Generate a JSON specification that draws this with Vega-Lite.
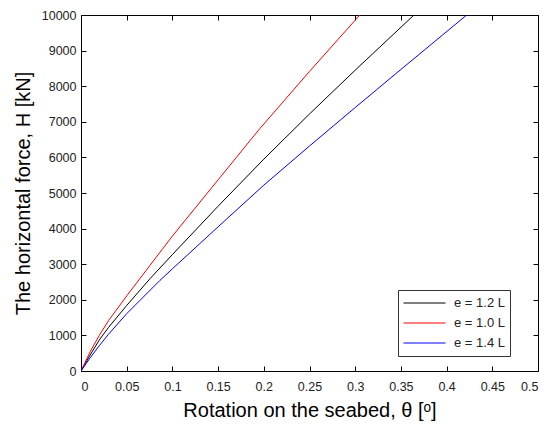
{
  "$schema": "https://vega.github.io/schema/vega-lite/v6.json",
  "width": 457,
  "height": 356,
  "autosize": "none",
  "padding": {"left": 81, "top": 15, "right": 9, "bottom": 53},
  "background": "white",
  "config": {
    "font": "Liberation Sans",
    "view": {"stroke": "black", "strokeWidth": 1},
    "axis": {"grid": false, "domainColor": "black", "tickColor": "black", "labelColor": "#222", "titleColor": "black", "titleFontWeight": "normal", "labelFontSize": 12.5, "titleFontSize": 20, "tickSize": -5}
  },
  "data": {"values": [
    {"series": "e = 1.2 L", "theta": 0, "H": 0},
    {"series": "e = 1.2 L", "theta": 0.01, "H": 450},
    {"series": "e = 1.2 L", "theta": 0.02, "H": 870},
    {"series": "e = 1.2 L", "theta": 0.03, "H": 1220},
    {"series": "e = 1.2 L", "theta": 0.05, "H": 1840},
    {"series": "e = 1.2 L", "theta": 0.0755, "H": 2593},
    {"series": "e = 1.2 L", "theta": 0.1, "H": 3270},
    {"series": "e = 1.2 L", "theta": 0.15, "H": 4630},
    {"series": "e = 1.2 L", "theta": 0.2, "H": 5950},
    {"series": "e = 1.2 L", "theta": 0.25, "H": 7220},
    {"series": "e = 1.2 L", "theta": 0.3, "H": 8450},
    {"series": "e = 1.2 L", "theta": 0.3643, "H": 10000},
    {"series": "e = 1.0 L", "theta": 0, "H": 0},
    {"series": "e = 1.0 L", "theta": 0.01, "H": 540},
    {"series": "e = 1.0 L", "theta": 0.02, "H": 1000},
    {"series": "e = 1.0 L", "theta": 0.03, "H": 1410},
    {"series": "e = 1.0 L", "theta": 0.05, "H": 2110},
    {"series": "e = 1.0 L", "theta": 0.0755, "H": 2968},
    {"series": "e = 1.0 L", "theta": 0.1, "H": 3790},
    {"series": "e = 1.0 L", "theta": 0.15, "H": 5370},
    {"series": "e = 1.0 L", "theta": 0.1958, "H": 6813},
    {"series": "e = 1.0 L", "theta": 0.25, "H": 8415},
    {"series": "e = 1.0 L", "theta": 0.305, "H": 10000},
    {"series": "e = 1.4 L", "theta": 0, "H": 0},
    {"series": "e = 1.4 L", "theta": 0.01, "H": 370},
    {"series": "e = 1.4 L", "theta": 0.02, "H": 710},
    {"series": "e = 1.4 L", "theta": 0.03, "H": 1030},
    {"series": "e = 1.4 L", "theta": 0.05, "H": 1610},
    {"series": "e = 1.4 L", "theta": 0.0864, "H": 2546},
    {"series": "e = 1.4 L", "theta": 0.1, "H": 2870},
    {"series": "e = 1.4 L", "theta": 0.15, "H": 4050},
    {"series": "e = 1.4 L", "theta": 0.2, "H": 5220},
    {"series": "e = 1.4 L", "theta": 0.25, "H": 6320},
    {"series": "e = 1.4 L", "theta": 0.3, "H": 7400},
    {"series": "e = 1.4 L", "theta": 0.35, "H": 8470},
    {"series": "e = 1.4 L", "theta": 0.422, "H": 10000}
  ]},
  "layer": [
    {
      "mark": {"type": "line", "strokeWidth": 1, "clip": true},
      "encoding": {
        "x": {"field": "theta", "type": "quantitative", "scale": {"domain": [0, 0.5], "nice": false},
          "axis": {"orient": "bottom", "values": [0, 0.05, 0.1, 0.15, 0.2, 0.25, 0.3, 0.35, 0.4, 0.45, 0.5], "labelExpr": "format(datum.value, '~g')", "labelPadding": 14, "title": "Rotation on the seabed, θ [ᵒ]", "titlePadding": 8}},
        "y": {"field": "H", "type": "quantitative", "scale": {"domain": [0, 10000], "nice": false},
          "axis": {"orient": "left", "values": [0, 1000, 2000, 3000, 4000, 5000, 6000, 7000, 8000, 9000, 10000], "format": "d", "labelPadding": 10, "title": "The horizontal force, H [kN]", "titlePadding": 8}},
        "stroke": {"field": "series", "type": "nominal",
          "scale": {"domain": ["e = 1.2 L", "e = 1.0 L", "e = 1.4 L"], "range": ["black", "red", "blue"]},
          "legend": {"title": null, "orient": "none", "legendX": 317, "legendY": 275, "strokeColor": "#333", "fillColor": "white", "padding": 5, "symbolType": "stroke", "symbolSize": 1764, "symbolStrokeWidth": 1, "clipHeight": 16, "labelFontSize": 13, "labelColor": "#222", "rowPadding": 4, "labelOffset": 8}}
      }
    },
    {
      "mark": {"type": "line", "opacity": 0},
      "encoding": {
        "x": {"field": "theta", "type": "quantitative", "scale": {"domain": [0, 0.5], "nice": false},
          "axis": {"orient": "top", "values": [0, 0.05, 0.1, 0.15, 0.2, 0.25, 0.3, 0.35, 0.4, 0.45, 0.5], "labels": false, "title": null}},
        "y": {"field": "H", "type": "quantitative", "scale": {"domain": [0, 10000], "nice": false},
          "axis": {"orient": "right", "values": [0, 1000, 2000, 3000, 4000, 5000, 6000, 7000, 8000, 9000, 10000], "labels": false, "title": null}},
        "detail": {"field": "series"}
      }
    }
  ],
  "resolve": {"axis": {"x": "independent", "y": "independent"}}
}
